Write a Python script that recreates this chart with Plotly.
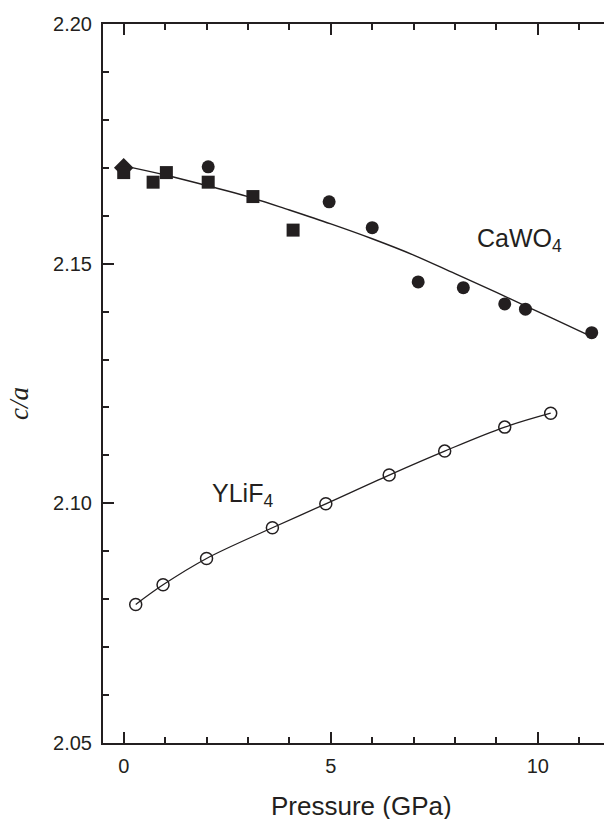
import plotly.graph_objects as go

# CaWO4 (filled markers)
ca_sq_p = [0.0, 0.71, 1.03, 2.04, 3.12, 4.09]
ca_sq_ca = [2.1690, 2.1670, 2.1690, 2.1670, 2.1640, 2.1570]
ca_di_p = [0.0]
ca_di_ca = [2.1700]
ca_ci_p = [2.04, 4.96, 6.00, 7.11, 8.20, 9.20, 9.70, 11.30]
ca_ci_ca = [2.1702, 2.1629, 2.1575, 2.1462, 2.1450, 2.1416, 2.1405, 2.1356]
# CaWO4 fit curve
ca_fit_p = [0, 1, 2, 3, 4, 5, 6, 7, 8, 9, 10, 11, 11.3]
ca_fit_ca = [2.1704, 2.1685, 2.1663, 2.1640, 2.1612, 2.1583, 2.1552, 2.1518, 2.1479, 2.1440, 2.1400, 2.1360, 2.1348]

# YLiF4 (open circles)
yl_p = [0.29, 0.95, 2.00, 3.59, 4.88, 6.41, 7.75, 9.20, 10.31]
yl_ca = [2.0789, 2.0830, 2.0885, 2.0949, 2.0999, 2.1059, 2.1109, 2.1159, 2.1188]

x_ticks = [0, 5, 10]
y_ticks = [2.05, 2.10, 2.15, 2.20]

INK = "#231f20"

fig = go.Figure()
fig.add_trace(go.Scatter(x=ca_fit_p, y=ca_fit_ca, mode="lines", line=dict(color=INK, width=1.4, shape="spline"), showlegend=False))
fig.add_trace(go.Scatter(x=yl_p, y=yl_ca, mode="lines", line=dict(color=INK, width=1.3, shape="spline"), showlegend=False))
fig.add_trace(go.Scatter(x=ca_di_p, y=ca_di_ca, mode="markers", marker=dict(symbol="diamond", size=15, color=INK), showlegend=False))
fig.add_trace(go.Scatter(x=ca_sq_p, y=ca_sq_ca, mode="markers", marker=dict(symbol="square", size=13, color=INK), showlegend=False))
fig.add_trace(go.Scatter(x=ca_ci_p, y=ca_ci_ca, mode="markers", marker=dict(symbol="circle", size=13, color=INK), showlegend=False))
fig.add_trace(go.Scatter(x=yl_p, y=yl_ca, mode="markers", marker=dict(symbol="circle-open", size=12, color=INK, line=dict(width=1.5, color=INK)), showlegend=False))

# page body has an 8px margin, so the figure is offset by 8px
fig.update_layout(
    width=604, height=811,
    margin=dict(l=95, r=0, t=16, b=76),
    paper_bgcolor="white", plot_bgcolor="white",
    font=dict(family="Liberation Sans, Arial, sans-serif", size=20, color=INK),
    xaxis=dict(
        range=[-0.5, 11.79], tickvals=x_ticks, ticktext=[str(v) for v in x_ticks],
        ticks="inside", ticklen=11, tickwidth=2, tickcolor=INK,
        minor=dict(dtick=1, tick0=0, ticks="inside", ticklen=6, tickwidth=2, tickcolor=INK),
        showline=True, linewidth=2, linecolor=INK, mirror="ticks",
        showgrid=False, zeroline=False,
        tickfont=dict(size=20), ticklabelstandoff=4,
    ),
    yaxis=dict(
        range=[2.05, 2.20], tickvals=y_ticks, ticktext=["%.2f" % v for v in y_ticks],
        ticks="inside", ticklen=11, tickwidth=2, tickcolor=INK,
        minor=dict(dtick=0.01, tick0=2.05, ticks="inside", ticklen=6, tickwidth=2, tickcolor=INK),
        showline=True, linewidth=2, linecolor=INK, mirror=False,
        showgrid=False, zeroline=False,
        tickfont=dict(size=20), ticklabelstandoff=5,
    ),
    yaxis2=dict(
        range=[2.05, 2.20], overlaying="y", side="right", anchor="x",
        tickvals=[2.10, 2.15], ticks="inside", ticklen=2, tickwidth=2, tickcolor=INK,
        showticklabels=False, showline=False, showgrid=False, zeroline=False,
    ),
    annotations=[
        dict(text="CaWO<sub>4</sub>", x=8.47, y=2.1550, xref="x", yref="y", xanchor="left", yanchor="middle",
             showarrow=False, font=dict(size=25, color=INK)),
        dict(text="YLiF<sub>4</sub>", x=2.08, y=2.1018, xref="x", yref="y", xanchor="left", yanchor="middle",
             showarrow=False, font=dict(size=25, color=INK)),
        dict(text="Pressure (GPa)", x=0.507, y=-0.0876, xref="paper", yref="paper", xanchor="center", yanchor="middle",
             showarrow=False, font=dict(size=26, color=INK)),
        dict(text="<i>c/a</i>", x=-0.165, y=0.4715, xref="paper", yref="paper", xanchor="center", yanchor="middle",
             textangle=-90, showarrow=False, font=dict(family="Liberation Serif, Times New Roman, serif", size=27, color=INK)),
    ],
)
# dummy trace to activate yaxis2
fig.add_trace(go.Scatter(x=[None], y=[None], yaxis="y2", showlegend=False, hoverinfo="skip"))

fig.write_html("out.html")
